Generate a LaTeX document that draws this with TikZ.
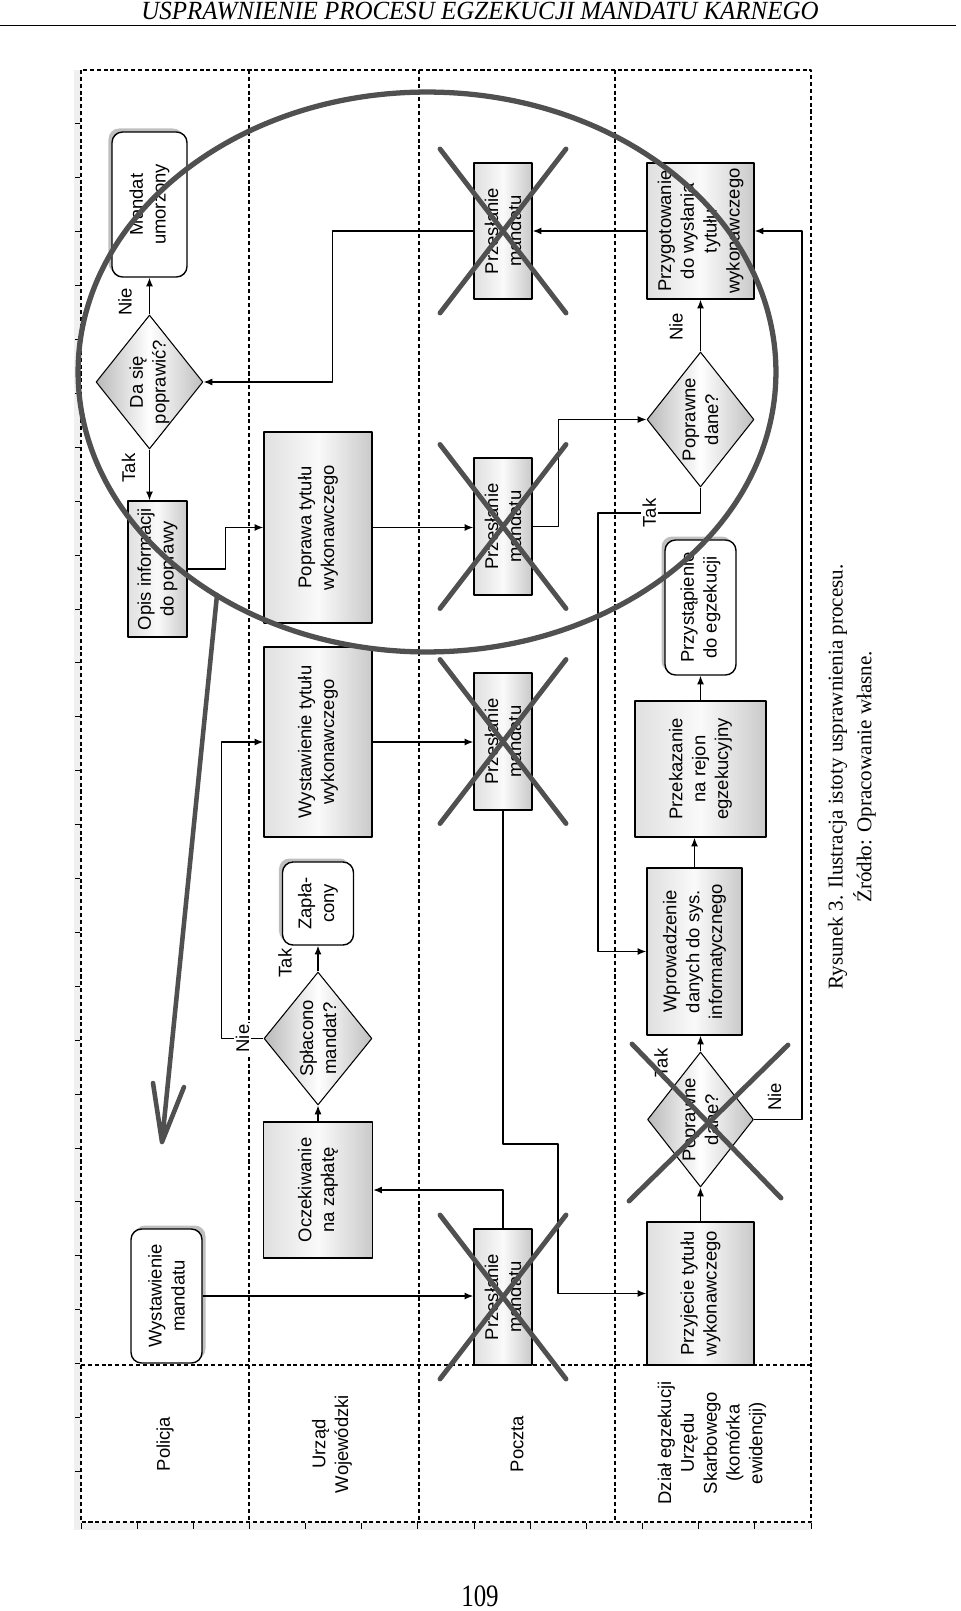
\documentclass[tikz,border=0pt]{standalone}
\usepackage{fontspec}
\setmainfont{Liberation Sans}
\newfontfamily\szeryf{Liberation Serif}
\usetikzlibrary{shapes.geometric,arrows.meta,shadows,calc}
\definecolor{olowek}{RGB}{80,80,80}
\tikzset{
  tor/.style={draw, line width=0.7pt, dash pattern=on 2.3pt off 1.6pt},
  blok/.style={draw, line width=0.8pt, rotate=90, align=center, inner sep=1pt,
    left color=gray!25, right color=gray!42, middle color=gray!4},
  koniec/.style={draw, line width=0.8pt, rotate=90, align=center, inner sep=1pt,
    rounded corners=6pt, fill=white,
    drop shadow={shadow xshift=#1, shadow yshift=2pt, opacity=.5}},
  koniec/.default=-2pt,
  romb/.style={draw, diamond, rotate=90, inner sep=0pt, line width=0.6pt,
    left color=gray!55, right color=gray!50, middle color=white},
  napis/.style={rotate=90, align=center, inner sep=1pt},
  etyk/.style={rotate=90, fill=white, inner sep=1pt},
  pol/.style={-{Latex[length=5pt,width=4pt]}, line width=0.75pt},
  krzyz/.style={draw=olowek, line width=2.8pt, line cap=round, line join=round}
}
\begin{document}
\begin{tikzpicture}[x=0.02cm,y=-0.02cm,line join=round,font=\fontsize{10.5}{13}\selectfont]
\useasboundingbox (0,0) rectangle (960,1611);
% Nagłówek strony
\node[anchor=base,font=\szeryf\itshape\fontsize{14.2}{16}\selectfont] (naglowek) at (480,20)
  {\scalebox{1}[1.05]{USPRAWNIENIE PROCESU EGZEKUCJI MANDATU KARNEGO}};
\draw[line width=0.9pt] (0,25.5) -- (956,25.5);

% Linijka
\fill[gray!12] (74,70) rectangle (81,1530);
\fill[gray!12] (74,1522) rectangle (811,1530);
\foreach \k in {1,...,26}
  \draw[line width=0.5pt] (75,{70+53.9*\k}) -- (80,{70+53.9*\k});
\foreach \k in {0,...,13}
  \draw[line width=0.5pt] ({81+56.15*\k},1523) -- ({81+56.15*\k},1529);

% Tory
\draw[tor] (81,70) rectangle (811,1522);
\foreach \x in {249,419,615}
  \draw[tor] (\x,70) -- (\x,1522);
\draw[tor] (81,1365) -- (811,1365);
\node[napis] (tPolicja) at (165,1444) {Policja};
\node[napis] (tUrzad) at (332,1444) {Urząd\\Wojewódzki};
\node[napis] (tPoczta) at (517,1444) {Poczta};
\node[napis] (tDzial) at (712,1443) {Dział egzekucji\\Urzędu\\Skarbowego\\(komórka\\ewidencji)};

% Policja
\node[koniec, minimum width=2.9cm, minimum height=1.5cm] (umorz) at (149.5,204.5) {Mandat\\umorzony};
\node[romb, minimum width=2.68cm, minimum height=2.14cm] (daSie) at (149.5,382) {};
\node[napis] (daSieT) at (daSie) {Da się\\poprawić?};
\node[blok, minimum width=2.72cm, minimum height=1.18cm] (opisInf) at (157.5,569) {Opis informacji\\do poprawy};
\node[koniec=2pt, minimum width=2.68cm, minimum height=1.42cm] (wystM) at (166.5,1296) {Wystawienie\\mandatu};

% Urząd Wojewódzki
\node[blok, minimum width=3.82cm, minimum height=2.16cm] (popr) at (318,527.5) {Poprawa tytułu\\wykonawczego};
\node[blok, minimum width=3.8cm, minimum height=2.16cm] (wystT) at (318,742) {Wystawienie tytułu\\wykonawczego};
\node[koniec, minimum width=1.66cm, minimum height=1.42cm] (zapl) at (318,903.5) {Zapła-\\cony};
\node[romb, minimum width=2.66cm, minimum height=2.16cm] (splac) at (318,1038.5) {};
\node[napis] (splacT) at (splac) {Spłacono\\mandat?};
\node[blok, minimum width=2.72cm, minimum height=2.18cm] (oczek) at (318,1190) {Oczekiwanie\\na zapłatę};

% Poczta
\node[blok, minimum width=2.72cm, minimum height=1.16cm] (prz1) at (503,231) {Przesłanie\\mandatu};
\node[blok, minimum width=2.74cm, minimum height=1.16cm] (prz2) at (503,526.5) {Przesłanie\\mandatu};
\node[blok, minimum width=2.74cm, minimum height=1.16cm] (prz3) at (503,741.5) {Przesłanie\\mandatu};
\node[blok, minimum width=2.72cm, minimum height=1.16cm] (prz4) at (503,1297) {Przesłanie\\mandatu};

% Dział egzekucji
\node[blok, minimum width=2.72cm, minimum height=2.14cm] (przyg) at (700.5,231) {Przygotowanie\\do wysłania\\tytułu\\wykonawczego};
\node[romb, minimum width=2.7cm, minimum height=2.14cm] (popD1) at (700.5,419.5) {};
\node[napis] (popD1T) at (popD1) {Poprawne\\dane?};
\node[koniec, minimum width=2.7cm, minimum height=1.42cm] (przyst) at (700.5,607.5) {Przystąpienie\\do egzekucji};
\node[blok, minimum width=2.72cm, minimum height=2.62cm] (przek) at (700.5,769) {Przekazanie\\na rejon\\egzekucyjny};
\node[blok, minimum width=3.34cm, minimum height=1.9cm] (wprow) at (694.5,951.5) {Wprowadzenie\\danych do sys.\\informatycznego};
\node[romb, minimum width=2.7cm, minimum height=2.12cm] (popD2) at (700.5,1119.5) {};
\node[napis] (popD2T) at (popD2) {Poprawne\\dane?};
\node[blok, minimum width=2.86cm, minimum height=2.14cm] (przyj) at (700.5,1293.5) {Przyjecie tytułu\\wykonawczego};

% Połączenia
\draw[pol] (daSie.east) -- (umorz.west);
\draw[pol] (daSie.west) -- (daSie.west |- opisInf.east);
\draw[pol] (opisInf.south) -- ++(38,0) |- (popr.north);
\draw[pol] (popr.south) -- (popr.south -| prz2.north);
\draw[pol] (prz2.south) -- ++(26,0) |- (popD1.north);
\draw[pol] (popD1.east) -- (przyg.west);
\draw[pol] (popD1.west) |- node[etyk, pos=.75] (takA) {Tak} (598,513) |- (wprow.north);
\draw[pol] (przyg.north) -- (przyg.north -| prz1.south);
\draw[pol] (prz1.north) -- ++(-141,0) |- (daSie.south);
\draw[pol] (wystM.south) -- (wystM.south -| prz4.north);
\draw[pol] (prz4.east) |- (oczek.south);
\draw[pol] (oczek.east) -- (splac.west);
\draw[pol] (splac.east) -- (zapl.west);
\draw[pol] (splac.north) -- node[etyk] (nieB) {Nie} ++(-42,0) |- (wystT.north);
\draw[pol] (wystT.south) -- (wystT.south -| prz3.north);
\draw[pol] (prz3.west) |- (558,1144) |- (przyj.north);
\draw[pol] (przyj.east) -- (popD2.west);
\draw[pol] (popD2.east) -- (popD2.east |- wprow.west);
\draw[pol] (wprow.east) -- (wprow.east |- przek.west);
\draw[pol] (przek.east) -- (przyst.west);
\draw[pol] (popD2.south) -- ++(48,0) |- (przyg.south);

% Etykiety Tak / Nie
\node[napis] (nieA) at (125,302) {Nie};
\node[napis] (takB) at (128.5,468) {Tak};
\node[napis] (takD) at (285,963) {Tak};
\node[napis] (nieC) at (676,327) {Nie};
\node[napis] (takC) at (661,1063) {Tak};
\node[napis] (nieD) at (774.5,1097) {Nie};

% Podpis
\node[napis, font=\szeryf\fontsize{12}{16.4}\selectfont] (podpis) at (852,777)
  {Rysunek 3. Ilustracja istoty usprawnienia procesu.\\Źródło: Opracowanie własne.};

% Skreślenia
\foreach \n in {prz1,prz2,prz3,prz4}
  \draw[krzyz] ($(\n)+(-63,-82)$) -- ($(\n)+(63,82)$) ($(\n)+(63,-82)$) -- ($(\n)+(-63,82)$);
\draw[krzyz] ($(popD2)+(-68.5,-75.5)$) -- ($(popD2)+(80.5,78.5)$)
  ($(popD2)+(87.5,-74.5)$) -- ($(popD2)+(-71.5,81.5)$);

% Obwódka i strzałka
\draw[krzyz, line width=3pt] (427,372) ellipse [x radius=6.98cm, y radius=5.6cm];
\draw[krzyz, line width=2.6pt] (217,595) -- (162,1142) (153,1083) -- (162,1142) -- (184,1087);

% Numer strony
\node[anchor=base,font=\szeryf\fontsize{14.2}{16}\selectfont] (strona) at (480,1606) {\scalebox{1}[1.25]{109}};
\end{tikzpicture}
\end{document}
